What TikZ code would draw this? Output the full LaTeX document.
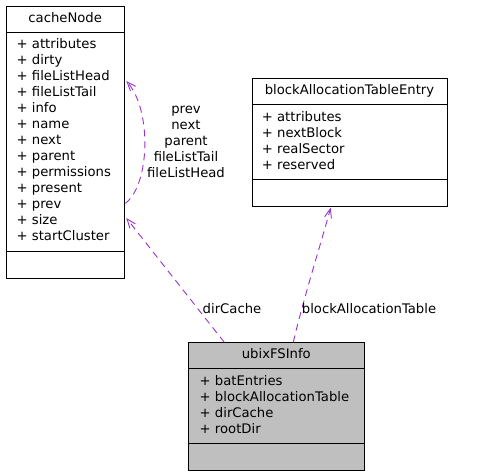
\documentclass[tikz,border=0pt]{standalone}
\usepackage{fontspec}
\setmainfont{DejaVu Sans}
\usetikzlibrary{arrows.meta}
\definecolor{edgec}{HTML}{9A32CD}
\definecolor{boxgray}{HTML}{BFBFBF}
\begin{document}
\begin{tikzpicture}[x=1pt,y=-1pt,
  font=\fontsize{13.2}{16}\selectfont,
  classbox/.style={draw=black, line width=1pt, inner sep=0pt, anchor=north west},
  txt/.style={inner sep=0pt, text height=9.6pt, text depth=2.6pt},
  member/.style={txt, anchor=west},
  sep/.style={draw=black, line width=1pt},
  edge/.style={draw=edgec, line width=0.9pt, dash pattern=on 7pt off 5pt,
    -{Straight Barb[length=9pt,width=7pt]}},
  elabel/.style={inner sep=0pt, align=center, font=\fontsize{13.2}{16}\selectfont}]
\useasboundingbox[fill=white] (0,0) rectangle (492,475);

% cacheNode
\node[classbox, minimum width=118.3pt, minimum height=271.7pt] (cn) at (6,6) {};
\draw[sep] (6,32.3) -- (124.3,32.3);
\draw[sep] (6,251) -- (124.3,251);
\node[txt] (cnt) at (65.2,19.1) {cacheNode};
\node[member] (cn1) at (16.5,45) {+ attributes};
\node[member] (cn2) at (16.5,61) {+ dirty};
\node[member] (cn3) at (16.5,77) {+ fileListHead};
\node[member] (cn4) at (16.5,93) {+ fileListTail};
\node[member] (cn5) at (16.5,109) {+ info};
\node[member] (cn6) at (16.5,125) {+ name};
\node[member] (cn7) at (16.5,141) {+ next};
\node[member] (cn8) at (16.5,157) {+ parent};
\node[member] (cn9) at (16.5,173) {+ permissions};
\node[member] (cn10) at (16.5,189) {+ present};
\node[member] (cn11) at (16.5,205) {+ prev};
\node[member] (cn12) at (16.5,221) {+ size};
\node[member] (cn13) at (16.5,237) {+ startCluster};

% blockAllocationTableEntry
\node[classbox, minimum width=195.6pt, minimum height=127.7pt] (bate) at (251.7,78.3) {};
\draw[sep] (251.7,104) -- (447.3,104);
\draw[sep] (251.7,179.3) -- (447.3,179.3);
\node[txt] (batet) at (349.5,91.3) {blockAllocationTableEntry};
\node[member] (bate1) at (261.7,117.7) {+ attributes};
\node[member] (bate2) at (261.7,133.7) {+ nextBlock};
\node[member] (bate3) at (261.7,149.7) {+ realSector};
\node[member] (bate4) at (261.7,165.7) {+ reserved};

% ubixFSInfo
\node[classbox, fill=boxgray, minimum width=176pt, minimum height=127.7pt] (ubix) at (188.3,342.3) {};
\draw[sep] (188.3,368.7) -- (364.3,368.7);
\draw[sep] (188.3,443.3) -- (364.3,443.3);
\node[txt] (ubixt) at (276.3,355.3) {ubixFSInfo};
\node[member] (ub1) at (199.5,382) {+ batEntries};
\node[member] (ub2) at (199.5,398) {+ blockAllocationTable};
\node[member] (ub3) at (199.5,414) {+ dirCache};
\node[member] (ub4) at (199.5,430) {+ rootDir};

% connectors
\draw[edge] ([yshift=-197.3pt]cn.north east) .. controls (150,185) and (152,110) .. ([yshift=-75pt,xshift=1pt]cn.north east);
\draw[edge] ([xshift=36pt]ubix.north west) -- ([yshift=-212pt,xshift=1pt]cn.north east);
\draw[edge] ([xshift=105pt]ubix.north west) .. controls (303,300) and (322,240) .. ([xshift=79pt,yshift=-0.7pt]bate.south west);

% labels
\node[elabel] (loopl) at (186,142) {prev\\next\\parent\\fileListTail\\fileListHead};
\node[elabel, txt] (dcl) at (232,309.6) {dirCache};
\node[elabel, txt] (batl) at (369,309.6) {blockAllocationTable};
\end{tikzpicture}
\end{document}
